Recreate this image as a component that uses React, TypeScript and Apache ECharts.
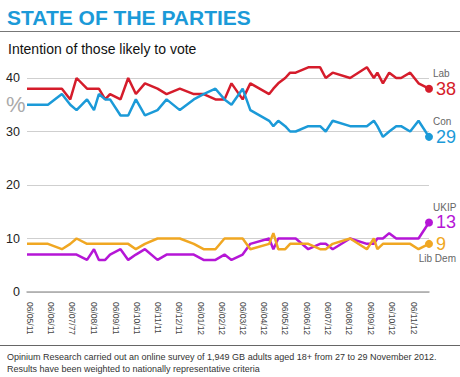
import React, { useEffect, useRef } from "react";
import * as echarts from "echarts";

const pollDates = [
  "2011-05-02", "2011-06-01", "2011-06-21", "2011-07-03", "2011-07-12", "2011-07-27", "2011-08-06", "2011-08-13", "2011-08-22", "2011-08-29",
  "2011-09-13", "2011-09-24", "2011-10-05", "2011-10-18", "2011-11-05", "2011-11-18", "2011-12-07", "2011-12-27", "2012-01-10", "2012-01-27",
  "2012-02-09", "2012-02-19", "2012-03-06", "2012-03-17", "2012-04-13", "2012-04-19", "2012-04-26", "2012-05-06", "2012-05-13", "2012-05-21",
  "2012-06-08", "2012-06-25", "2012-07-03", "2012-07-13", "2012-08-07", "2012-08-31", "2012-09-10", "2012-09-15", "2012-09-23", "2012-10-02",
  "2012-10-12", "2012-10-19", "2012-11-01", "2012-11-13", "2012-11-28",
];
const lab = [38, 38, 38, 36, 40, 38, 38, 38, 36, 37, 36, 40, 37, 39, 38, 37, 38, 37, 37, 36, 36, 39, 36, 39, 37, 38, 39, 40, 41, 41, 42, 42, 40, 41, 40, 42, 40, 41, 39, 41, 40, 40, 41, 39, 38];
const con = [35, 35, 37, 35, 34, 36, 34, 37, 36, 36, 33, 33, 36, 33, 34, 36, 34, 36, 37, 38, 36, 35, 38, 34, 32, 31, 32, 31, 30, 30, 31, 31, 30, 32, 31, 31, 32, 31, 29, 30, 31, 31, 30, 32, 29];
const libDem = [9, 9, 8, 9, 10, 9, 9, 9, 9, 9, 9, 9, 8, 9, 10, 10, 10, 9, 8, 8, 10, 10, 10, 8, 9, 11, 8, 8, 9, 9, 9, 8, 8, 9, 10, 8, 10, 8, 9, 9, 9, 9, 9, 8, 9];
const ukip = [7, 7, 7, 7, 7, 6, 8, 6, 6, 7, 8, 6, 7, 8, 6, 7, 7, 7, 6, 6, 7, 6, 7, 9, 10, 8, 10, 10, 10, 10, 8, 9, 9, 8, 10, 9, 9, 10, 10, 11, 10, 10, 10, 10, 13];

const tickDates = [
  "2011-05-06", "2011-06-06", "2011-07-06", "2011-08-06", "2011-09-06", "2011-10-06", "2011-11-06", "2011-12-06", "2012-01-06", "2012-02-06",
  "2012-03-06", "2012-04-06", "2012-05-06", "2012-06-06", "2012-07-06", "2012-08-06", "2012-09-06", "2012-10-06", "2012-11-06",
];
const tickLabels = [
  "06/05/11", "06/06/11", "06/07/77", "06/08/11", "06/09/11", "06/10/11", "06/11/11", "06/12/11", "06/01/12", "06/02/12",
  "06/03/12", "06/04/12", "06/05/12", "06/06/12", "06/07/12", "06/08/12", "06/09/12", "06/10/12", "06/11/12",
];
const yTicks = [0, 10, 20, 30, 40];

const parties = [
  { name: "Lab", values: lab, color: "#d51c2b", nameSide: "above" },
  { name: "Con", values: con, color: "#1b9ad8", nameSide: "above" },
  { name: "UKIP", values: ukip, color: "#b516d6", nameSide: "above" },
  { name: "Lib Dem", values: libDem, color: "#f0a722", nameSide: "below" },
];

const DAY = 86400000;
const toDay = (s: string) => {
  const [y, m, d] = s.split("-").map(Number);
  return Date.UTC(y, m - 1, d) / DAY;
};
const pollDays = pollDates.map(toDay);
const tickDays = tickDates.map(toDay);

const FONT = "'Liberation Sans', Arial, sans-serif";

export default function App() {
  const ref = useRef<HTMLDivElement>(null);
  useEffect(() => {
    if (!ref.current) return;
    const chart = echarts.init(ref.current, null, { renderer: "svg" });
    const last = pollDays.length - 1;
    const option: any = {
      animation: false,
      backgroundColor: "#ffffff",
      grid: { left: 27, right: 31, top: 78, bottom: 85, containLabel: false },
      xAxis: {
        type: "value",
        min: pollDays[0],
        max: pollDays[last],
        splitLine: { show: false },
        axisTick: { show: false },
        axisLine: { show: true, lineStyle: { color: "#a8a8a8", width: 1.5 } },
        axisLabel: {
          customValues: tickDays,
          rotate: -90,
          margin: 10,
          fontSize: 8.5,
          fontFamily: FONT,
          color: "#444",
          formatter: (v: number) => {
            const i = tickDays.findIndex((t) => Math.abs(t - v) < 0.5);
            return i >= 0 ? tickLabels[i] : "";
          },
        },
      },
      yAxis: {
        type: "value",
        min: yTicks[0],
        max: yTicks[yTicks.length - 1],
        interval: 10,
        axisLine: { show: false },
        axisTick: { show: false },
        splitLine: { lineStyle: { color: "#cfcfcf", width: 1 } },
        axisLabel: { fontSize: 12.5, fontFamily: FONT, color: "#222", margin: 7 },
      },
      series: parties.map((p) => ({
        type: "line",
        name: p.name,
        clip: false,
        showSymbol: true,
        showAllSymbol: true,
        symbol: "circle",
        symbolSize: (_v: any, params: any) => (params.dataIndex === last ? 8 : 0),
        lineStyle: { color: p.color, width: 2.5 },
        itemStyle: { color: p.color },
        data: p.values.map((v, i) => [pollDays[i], v]),
      })),
    };
    chart.setOption(option);

    const graphics: any[] = [
      { type: "text", left: 7, top: 7, style: { text: "STATE OF THE PARTIES", fill: "#1b9ad8", font: `900 21px ${FONT}` } },
      { type: "rect", shape: { x: 0, y: 31, width: 460, height: 1 }, style: { fill: "#777" } },
      { type: "text", left: 8, top: 42, style: { text: "Intention of those likely to vote", fill: "#111", font: `14px ${FONT}` } },
      { type: "text", left: 6, top: 93, style: { text: "%", fill: "#aaaaaa", font: `22px ${FONT}` } },
      { type: "rect", shape: { x: 0, y: 345, width: 460, height: 1 }, style: { fill: "#666" } },
      {
        type: "text",
        left: 7,
        top: 351,
        style: {
          text: "Opinium Research carried out an online survey of 1,949 GB adults aged 18+ from 27 to 29 November 2012.\nResults have been weighted to nationally representative criteria",
          fill: "#333",
          font: `9px ${FONT}`,
          lineHeight: 12,
        },
      },
    ];
    parties.forEach((p) => {
      const [px, py] = chart.convertToPixel({ gridIndex: 0 }, [pollDays[last], p.values[last]]) as number[];
      graphics.push({
        type: "text",
        x: px + 7,
        y: py,
        style: { text: String(p.values[last]), fill: p.color, font: `18px ${FONT}`, textVerticalAlign: "middle", textAlign: "left" },
      });
      if (p.nameSide === "above") {
        graphics.push({
          type: "text",
          x: px + 4,
          y: py - 15,
          style: { text: p.name, fill: "#666", font: `10px ${FONT}`, textVerticalAlign: "middle", textAlign: "left" },
        });
      } else {
        graphics.push({
          type: "text",
          x: 456,
          y: py + 15,
          style: { text: p.name, fill: "#666", font: `10px ${FONT}`, textVerticalAlign: "middle", textAlign: "right" },
        });
      }
    });
    chart.setOption({ graphic: graphics });
    return () => chart.dispose();
  }, []);
  return <div ref={ref} style={{ position: "fixed", left: 0, top: 0, width: 460, height: 377 }} />;
}
